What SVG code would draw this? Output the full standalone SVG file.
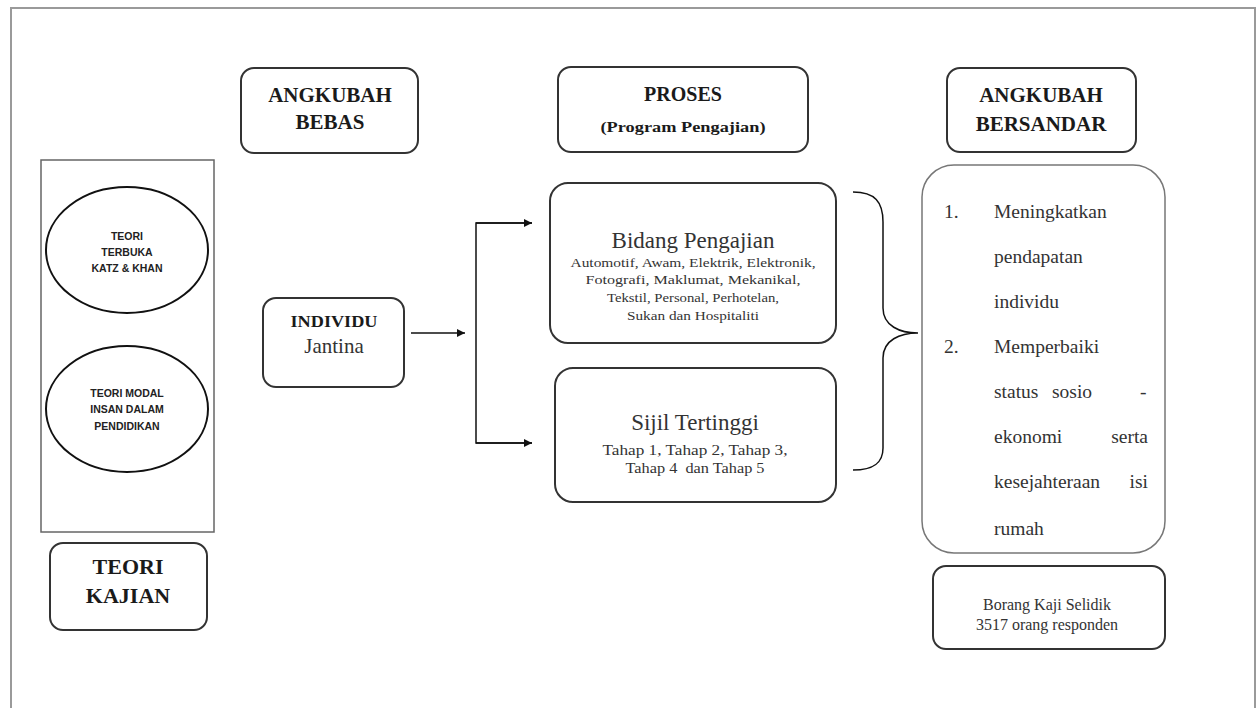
<svg xmlns="http://www.w3.org/2000/svg" width="1258" height="708" viewBox="0 0 1258 708">
<defs>
<marker id="arr" viewBox="0 0 10 10" refX="10" refY="5" markerWidth="8" markerHeight="8" markerUnits="userSpaceOnUse" orient="auto">
<path d="M0,0 L10,5 L0,10 z" fill="#111"/>
</marker>
<style>
.box{fill:#fff;stroke:#333;stroke-width:2}
.thin{fill:#fff;stroke:#666;stroke-width:1.5}
.ell{fill:#fff;stroke:#111;stroke-width:2}
.hb{font-family:"Liberation Serif","Times New Roman",serif;font-weight:bold;fill:#1a1a1a;text-anchor:middle}
.tr{font-family:"Liberation Serif","Times New Roman",serif;fill:#333;text-anchor:middle}
.tl{font-family:"Liberation Serif","Times New Roman",serif;fill:#333;font-size:19.5px}
.sn{font-family:"Liberation Sans",Arial,sans-serif;font-weight:bold;fill:#222;text-anchor:middle;font-size:10.5px}
.con{fill:none;stroke:#111;stroke-width:1.5}
</style>
</defs>
<rect width="1258" height="708" fill="#fff"/>
<rect x="11" y="8" width="1244" height="720" fill="none" stroke="#9a9a9a" stroke-width="2"/>

<g id="teori-frame">
<rect class="thin" x="41" y="160" width="173" height="372"/>
</g>
<g id="teori-terbuka">
<ellipse class="ell" cx="127" cy="250" rx="81" ry="63"/>
<text class="sn" x="127" y="240">TEORI</text>
<text class="sn" x="127" y="256">TERBUKA</text>
<text class="sn" x="127" y="272">KATZ &amp; KHAN</text>
</g>
<g id="teori-modal">
<ellipse class="ell" cx="127" cy="409" rx="81" ry="63"/>
<text class="sn" x="127" y="397">TEORI MODAL</text>
<text class="sn" x="127" y="413">INSAN DALAM</text>
<text class="sn" x="127" y="430">PENDIDIKAN</text>
</g>
<g id="teori-kajian">
<rect class="box" x="50" y="543" width="157" height="87" rx="13"/>
<text class="hb" x="128" y="574" font-size="22">TEORI</text>
<text class="hb" x="128" y="603" font-size="22">KAJIAN</text>
</g>

<g id="angkubah-bebas">
<rect class="box" x="241" y="68" width="177" height="85" rx="13"/>
<text class="hb" x="330" y="102" font-size="21">ANGKUBAH</text>
<text class="hb" x="330" y="129" font-size="21">BEBAS</text>
</g>
<g id="individu">
<rect class="box" x="263" y="298" width="141" height="89" rx="13"/>
<text class="hb" x="334" y="327" font-size="16" textLength="87" lengthAdjust="spacingAndGlyphs">INDIVIDU</text>
<text class="tr" x="334" y="353" font-size="21">Jantina</text>
</g>

<g id="proses">
<rect class="box" x="558" y="67" width="250" height="85" rx="13"/>
<text class="hb" x="683" y="101" font-size="20">PROSES</text>
<text class="hb" x="683" y="132" font-size="15" textLength="165" lengthAdjust="spacingAndGlyphs">(Program Pengajian)</text>
</g>
<g id="bidang">
<rect class="box" x="550" y="183" width="286" height="160" rx="18"/>
<text class="tr" x="693" y="248" font-size="23">Bidang Pengajian</text>
<text class="tr" x="693" y="267" font-size="13" textLength="245" lengthAdjust="spacingAndGlyphs">Automotif, Awam, Elektrik, Elektronik,</text>
<text class="tr" x="693" y="284" font-size="13" textLength="215" lengthAdjust="spacingAndGlyphs">Fotografi, Maklumat, Mekanikal,</text>
<text class="tr" x="693" y="302" font-size="13" textLength="172" lengthAdjust="spacingAndGlyphs">Tekstil, Personal, Perhotelan,</text>
<text class="tr" x="693" y="320" font-size="13" textLength="132" lengthAdjust="spacingAndGlyphs">Sukan dan Hospitaliti</text>
</g>
<g id="sijil">
<rect class="box" x="555" y="368" width="281" height="134" rx="18"/>
<text class="tr" x="695" y="430" font-size="23">Sijil Tertinggi</text>
<text class="tr" x="695" y="455" font-size="14" textLength="185" lengthAdjust="spacingAndGlyphs">Tahap 1, Tahap 2, Tahap 3,</text>
<text class="tr" x="695" y="473" font-size="14" textLength="139" lengthAdjust="spacingAndGlyphs" xml:space="preserve">Tahap 4  dan Tahap 5</text>
</g>

<g id="angkubah-bersandar">
<rect class="box" x="947" y="68" width="189" height="84" rx="13"/>
<text class="hb" x="1041" y="102" font-size="21">ANGKUBAH</text>
<text class="hb" x="1041" y="131" font-size="21">BERSANDAR</text>
</g>
<g id="hasil">
<rect x="922" y="165" width="243" height="388" rx="32" fill="#fff" stroke="#777" stroke-width="1.5"/>
<text class="tl" x="944" y="218">1.</text>
<text class="tl" x="994" y="218">Meningkatkan</text>
<text class="tl" x="994" y="263">pendapatan</text>
<text class="tl" x="994" y="308">individu</text>
<text class="tl" x="944" y="353">2.</text>
<text class="tl" x="994" y="353">Memperbaiki</text>
<text class="tl" x="994" y="398">status</text>
<text class="tl" x="1052" y="398">sosio</text>
<text class="tl" x="1140" y="398">-</text>
<text class="tl" x="994" y="443">ekonomi</text>
<text class="tl" x="1148" y="443" text-anchor="end">serta</text>
<text class="tl" x="994" y="488">kesejahteraan</text>
<text class="tl" x="1148" y="488" text-anchor="end">isi</text>
<text class="tl" x="994" y="535">rumah</text>
</g>
<g id="borang">
<rect class="box" x="933" y="566" width="232" height="83" rx="13"/>
<text class="tr" x="1047" y="610" font-size="16">Borang Kaji Selidik</text>
<text class="tr" x="1047" y="630" font-size="16">3517 orang responden</text>
</g>

<g id="connectors">
<line class="con" x1="411" y1="333" x2="465" y2="333" marker-end="url(#arr)"/>
<polyline class="con" points="532,223 476,223 476,443 532,443"/>
<line class="con" x1="476" y1="223" x2="532" y2="223" marker-end="url(#arr)"/>
<line class="con" x1="476" y1="443" x2="532" y2="443" marker-end="url(#arr)"/>
<path class="con" stroke-width="2" d="M853,192 C875,192 883,202 883,222 L883,308 C883,326 900,333 918,333 C900,333 883,340 883,358 L883,448 C883,462 875,470 853,470"/>
</g>
</svg>
